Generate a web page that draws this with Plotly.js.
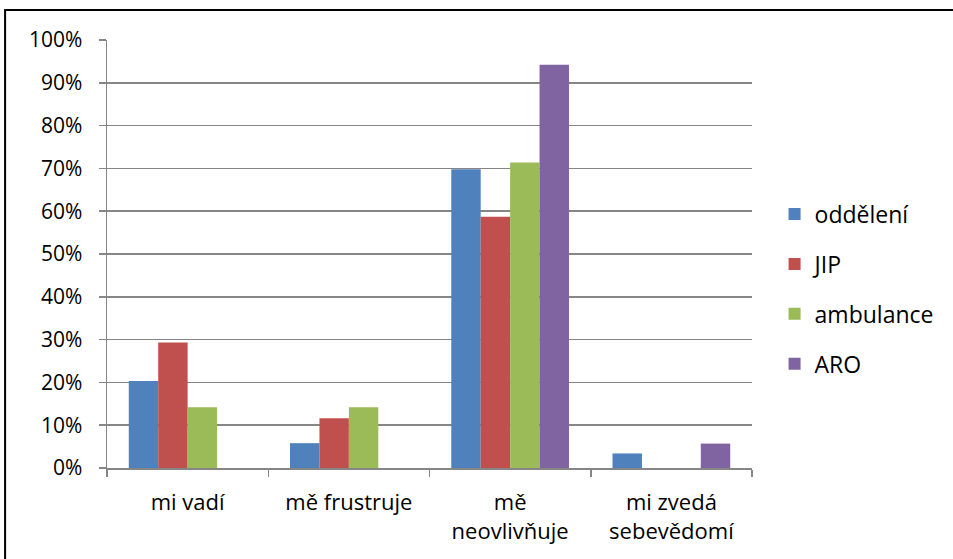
<!DOCTYPE html>
<html>
<head>
<meta charset="utf-8">
<script src="https://cdn.plot.ly/plotly-3.0.1.min.js"></script>
<style>
html,body{margin:0;padding:0;background:#fff;}
#chart{width:953px;height:559px;}
</style>
</head>
<body>
<div id="chart"></div>
<script>
const categories = ["mi vadí", "mě frustruje", "mě<br>neovlivňuje", "mi zvedá<br>sebevědomí"];
const seriesNames = ["oddělení", "JIP", "ambulance", "ARO"];
const oddeleni = [20.3, 5.8, 69.8, 3.4];
const jip = [29.3, 11.6, 58.7, 0];
const ambulance = [14.2, 14.2, 71.4, 0];
const aro = [0, 0, 94.2, 5.7];
const yTickVals = [0, 10, 20, 30, 40, 50, 60, 70, 80, 90, 100];
const yTickLabels = ["0%", "10%", "20%", "30%", "40%", "50%", "60%", "70%", "80%", "90%", "100%"];
const colors = ["#4F81BD", "#C0504D", "#9BBB59", "#8064A2"];

const seriesValues = [oddeleni, jip, ambulance, aro];
const traces = seriesNames.map((name, i) => ({
  type: "bar",
  name: name,
  x: categories,
  y: seriesValues[i],
  marker: {color: colors[i], line: {width: 0}},
  legendgroup: "g" + i,
  hoverinfo: "x+y+name"
}));

const font = "'Open Sans', 'Noto Sans', sans-serif";
const layout = {
  width: 953,
  height: 559,
  margin: {l: 107, r: 201, t: 40, b: 91, pad: 0},
  paper_bgcolor: "#ffffff",
  plot_bgcolor: "#ffffff",
  barmode: "group",
  bargap: 0.27,
  bargroupgap: 0,
  showlegend: true,
  legend: {
    x: 1.035, xanchor: "left", y: 0.418, yanchor: "middle",
    font: {family: font, size: 23, color: "#000"},
    tracegroupgap: 17,
    itemwidth: 30,
    bgcolor: "rgba(0,0,0,0)"
  },
  xaxis: {
    type: "category",
    showline: true, linecolor: "#868686", linewidth: 1.5,
    ticks: "outside", tickson: "boundaries", ticklen: 7, tickcolor: "#868686", tickwidth: 1.5,
    tickfont: {family: font, size: 22, color: "#000"},
    showgrid: false,
    ticklabelstandoff: 14,
    fixedrange: true
  },
  yaxis: {
    range: [0, 100],
    tickmode: "array",
    tickvals: yTickVals,
    ticktext: yTickLabels,
    showline: true, linecolor: "#868686", linewidth: 1.5,
    ticks: "outside", ticklen: 7, tickcolor: "#868686", tickwidth: 1.5,
    showgrid: true, gridcolor: "#868686", gridwidth: 1.5,
    zeroline: false,
    tickfont: {family: font, size: 21, color: "#000"},
    ticklabelstandoff: 12,
    fixedrange: true
  },
  shapes: [{
    type: "rect", xref: "paper", yref: "paper",
    x0: -0.158, x1: 1.6, y0: -0.5, y1: 1.07,
    line: {color: "#000", width: 2}, fillcolor: "rgba(0,0,0,0)", layer: "above"
  }]
};

Plotly.newPlot("chart", traces, layout, {displayModeBar: false, staticPlot: true});
</script>
</body>
</html>
